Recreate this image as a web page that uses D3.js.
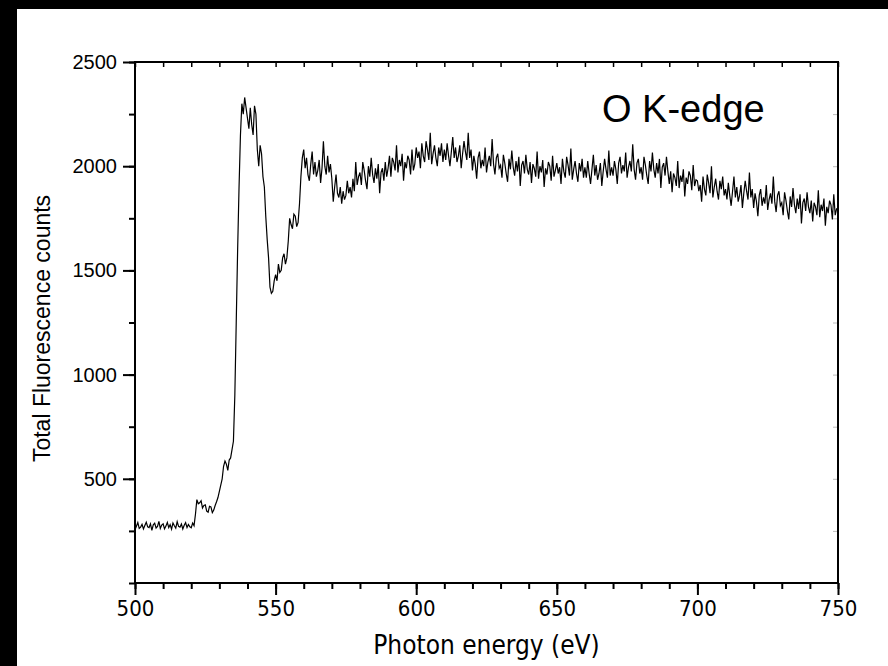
<!DOCTYPE html>
<html>
<head>
<meta charset="utf-8">
<script src="https://cdn.jsdelivr.net/npm/d3@7"></script>
<style>
  body { margin: 0; background: #000; }
  .tick-x text { font-family: "Liberation Sans Narrow", "DejaVu Sans Condensed", sans-serif; font-size: 22px; }
  .tick-y text { font-family: "Liberation Sans", Arial, sans-serif; font-size: 20px; }
</style>
</head>
<body>
<div id="chart"></div>
<script>
var svgWidth = 888;
var svgHeight = 666;

var margin = {top: 62, right: 50, bottom: 83, left: 135};

var chartWidth = svgWidth - margin.left - margin.right;
var chartHeight = svgHeight - margin.top - margin.bottom;

// Spectrum, sampled every 0.5 eV from 500 eV (one row = 10 eV)
var startEnergy = 500;
var stepEnergy = 0.5;
var counts = [
  255, 272, 290, 262, 268, 281, 259, 276, 292, 270, 266, 284, 253, 279, 287, 264, 271, 296, 262, 278,
  284, 260, 273, 291, 266, 280, 258, 288, 275, 263, 294, 272, 268, 283, 259, 277, 290, 266, 281, 270,
  265, 288, 275, 330, 400, 380, 385, 395, 360, 372, 375, 345, 340, 368, 365, 338, 350, 372, 390, 410,
  440, 470, 500, 560, 585, 570, 540, 590, 600, 640, 680, 900, 1250, 1600, 1900, 2150, 2300, 2250, 2330, 2280,
  2230, 2180, 2280, 2200, 2150, 2290, 2250, 2080, 2000, 2100, 2060, 1950, 1900, 1760, 1650, 1560, 1420, 1390, 1400, 1450,
  1480, 1450, 1530, 1490, 1500, 1560, 1580, 1530, 1560, 1640, 1750, 1720, 1700, 1770, 1760, 1710, 1730, 1820, 1950, 2040,
  2080, 1990, 2040, 1960, 1930, 2010, 2070, 1960, 2020, 1950, 1980, 2030, 1920, 1990, 2120, 2000, 1960, 2050, 1970, 2010,
  1940, 1830, 1900, 1960, 1870, 1850, 1900, 1820, 1880, 1840, 1860, 1930, 1870, 1900, 1850, 1940, 1880, 2020, 1910, 1950,
  1970, 1910, 2020, 1980, 1930, 1890, 2000, 1950, 2040, 1960, 1920, 1990, 1940, 2010, 1870, 1970, 1990, 1930, 2020, 1950,
  1990, 2050, 1950, 2040, 2020, 1980, 2100, 1970, 2030, 2000, 2060, 1930, 2020, 1990, 2050, 2030, 1960, 2080, 1980, 2010,
  2090, 2040, 2070, 1990, 2110, 2050, 2020, 2120, 2080, 2030, 2160, 2010, 2060, 2100, 2040, 2000, 2090, 2050, 2110, 2020,
  2080, 2030, 2110, 2050, 2000, 2070, 2140, 2040, 2090, 2020, 2050, 2100, 1990, 2060, 2120, 2070, 2030, 2160, 2040, 2080,
  1980, 2050, 2010, 1940, 2040, 2070, 1990, 2030, 2000, 2090, 1970, 2020, 2050, 2000, 2130, 2010, 1960, 2040, 2060, 1990,
  2005, 1945, 2055, 2015, 1965, 1925, 2035, 1985, 2075, 1995, 1955, 2025, 1975, 2045, 1905, 2005, 2025, 1965, 2055, 1985,
  1960, 2020, 1920, 2010, 1990, 1950, 2070, 1940, 2000, 1970, 2030, 1900, 1990, 1960, 2020, 2000, 1930, 2050, 1950, 1980,
  2015, 1965, 1995, 1915, 2035, 1975, 1945, 2045, 2005, 1955, 2085, 1935, 1985, 2025, 1965, 1925, 2015, 1975, 2035, 1945,
  1995, 1945, 2025, 1965, 1915, 1985, 2055, 1955, 2005, 1935, 1965, 2015, 1905, 1975, 2035, 1985, 1945, 2075, 1955, 1995,
  1955, 2025, 1985, 1915, 2015, 2045, 1965, 2005, 1975, 2065, 1945, 1995, 2025, 1975, 2105, 1985, 1935, 2015, 2035, 1965,
  1995, 1935, 2045, 2005, 1955, 1915, 2025, 1975, 2065, 1985, 1945, 2015, 1965, 2035, 1895, 1995, 2015, 1955, 2045, 1975,
  1915, 1975, 1875, 1965, 1945, 1905, 2025, 1895, 1955, 1925, 1985, 1855, 1945, 1915, 1975, 1955, 1885, 2005, 1905, 1935,
  1930, 1880, 1910, 1830, 1950, 1890, 1860, 1960, 1920, 1870, 2000, 1850, 1900, 1940, 1880, 1840, 1930, 1890, 1950, 1860,
  1890, 1840, 1920, 1860, 1810, 1880, 1950, 1850, 1900, 1830, 1860, 1910, 1800, 1870, 1930, 1880, 1840, 1970, 1850, 1890,
  1800, 1870, 1830, 1760, 1860, 1890, 1810, 1850, 1820, 1910, 1790, 1840, 1870, 1820, 1950, 1830, 1780, 1860, 1880, 1810,
  1825, 1765, 1875, 1835, 1785, 1745, 1855, 1805, 1895, 1815, 1775, 1845, 1795, 1865, 1725, 1825, 1845, 1785, 1875, 1805,
  1775, 1835, 1735, 1825, 1805, 1765, 1885, 1755, 1815, 1785, 1845, 1715, 1805, 1775, 1835, 1815, 1745, 1865, 1765, 1795,
  1800
];

var xTicks = [500, 550, 600, 650, 700, 750];
var yTicks = [500, 1000, 1500, 2000, 2500];

var svg = d3.select("#chart").append("svg")
            .attr("width", svgWidth)
            .attr("height", svgHeight);

// black frame of the scan, white page inside
svg.append("rect")
    .attr("x", 17).attr("y", 9)
    .attr("width", svgWidth - 17).attr("height", svgHeight - 9)
    .attr("fill", "white");

var chartGroup = svg.append("g")
                    .attr("transform", `translate(${margin.left}, ${margin.top})`);

var xScale = d3.scaleLinear()
    .domain([500, 750])
    .range([0, chartWidth]);

var yScale = d3.scaleLinear()
    .domain([0, 2500])
    .range([chartHeight, 0]);

// minor ticks
var xMinor = d3.range(500, 751, 10);
var yMinor = d3.range(0, 2501, 250);

chartGroup.append("g")
    .attr("transform", `translate(0, ${chartHeight})`)
    .call(d3.axisBottom(xScale).tickValues(xMinor).tickSize(6).tickFormat(""))
    .call(g => g.select(".domain").remove())
    .selectAll("line").attr("stroke-width", 2);

chartGroup.append("g")
    .attr("class", "tick-x")
    .attr("transform", `translate(0, ${chartHeight})`)
    .call(d3.axisBottom(xScale).tickValues(xTicks).tickSize(12).tickPadding(5).tickFormat(d3.format("d")))
    .call(g => g.select(".domain").remove())
    .selectAll("line").attr("stroke-width", 2);

chartGroup.append("g")
    .call(d3.axisLeft(yScale).tickValues(yMinor).tickSize(6).tickFormat(""))
    .call(g => g.select(".domain").remove())
    .selectAll("line").attr("stroke-width", 2);

chartGroup.append("g")
    .attr("class", "tick-y")
    .call(d3.axisLeft(yScale).tickValues(yTicks).tickSize(12).tickPadding(6).tickFormat(d3.format("d")))
    .call(g => g.select(".domain").remove())
    .selectAll("line").attr("stroke-width", 2);

// top and right: small inward ticks
chartGroup.append("g")
    .call(d3.axisTop(xScale).tickValues(xMinor).tickSize(-5).tickFormat(""))
    .call(g => g.select(".domain").remove())
    .selectAll("line").attr("stroke-width", 1.5);

chartGroup.append("g")
    .attr("transform", `translate(${chartWidth}, 0)`)
    .call(d3.axisRight(yScale).tickValues(yMinor).tickSize(-5).tickFormat(""))
    .call(g => g.select(".domain").remove())
    .selectAll("line").attr("stroke", "#bbb").attr("stroke-width", 1);

// spectrum line
var line = d3.line()
    .x((d, i) => xScale(startEnergy + i * stepEnergy))
    .y(d => yScale(d));

chartGroup.append("path")
    .datum(counts)
    .attr("fill", "none")
    .attr("stroke", "black")
    .attr("stroke-width", 1.2)
    .attr("d", line);

// plot frame
chartGroup.append("rect")
    .attr("width", chartWidth)
    .attr("height", chartHeight)
    .attr("fill", "none")
    .attr("stroke", "black")
    .attr("stroke-width", 2);

// labels
chartGroup.append("text")
    .attr("transform", `translate(${-margin.left + 50}, ${chartHeight / 2 + 6}) rotate(-90)`)
    .attr("text-anchor", "middle")
    .style("font-family", "Liberation Sans, Arial, sans-serif")
    .style("font-size", "23px")
    .text("Total Fluorescence counts");

chartGroup.append("text")
    .attr("x", xScale(625))
    .attr("y", chartHeight + 71)
    .attr("text-anchor", "middle")
    .style("font-family", "Liberation Sans Narrow, DejaVu Sans Condensed, sans-serif")
    .style("font-size", "26px")
    .text("Photon energy (eV)");

chartGroup.append("text")
    .attr("x", xScale(695))
    .attr("y", 60)
    .attr("text-anchor", "middle")
    .style("font-family", "Liberation Sans, Arial, sans-serif")
    .style("font-size", "38px")
    .text("O K-edge");
</script>
</body>
</html>
